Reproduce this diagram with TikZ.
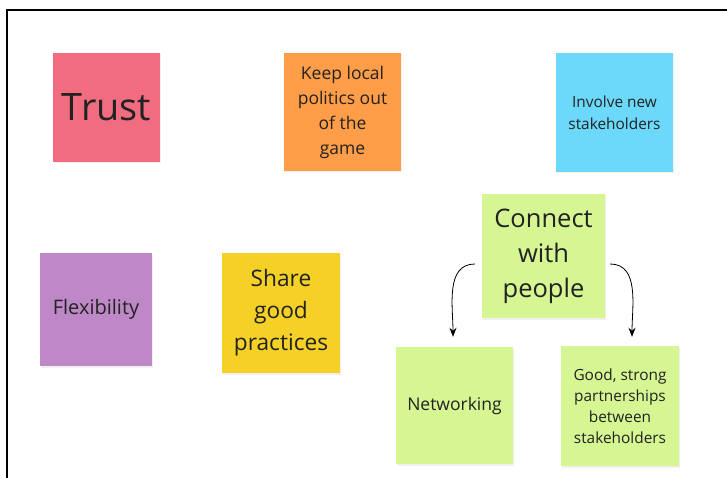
\documentclass[tikz,border=0pt]{standalone}
\usepackage{fontspec}
\setmainfont{Open Sans}
\usepackage{xcolor}
\usetikzlibrary{arrows.meta,shadows}

\definecolor{trustpink}{HTML}{F16C7F}
\definecolor{keeporange}{HTML}{FF9D48}
\definecolor{involveblue}{HTML}{6CD8FA}
\definecolor{flexpurple}{HTML}{BE88C7}
\definecolor{shareyellow}{HTML}{F5D128}
\definecolor{peoplegreen}{HTML}{D5F692}
\definecolor{inkgrey}{HTML}{222222}

\begin{document}
\begin{tikzpicture}[x=1pt,y=-1pt,
		note/.style={inner sep=0pt, align=center, text=inkgrey,
			drop shadow={shadow xshift=1pt, shadow yshift=-1.5pt, opacity=0.12}},
		link/.style={-{Stealth[length=9pt,width=7pt]}, line width=0.8pt}]
		\useasboundingbox (0,0) rectangle (727,478);
		\draw[line width=2.2pt] (7,478) -- (7,10) -- (727,10);
		% top row
		\node[note, fill=trustpink, minimum width=107pt, minimum height=109pt, font=\fontsize{37.8}{44}\selectfont] (trust) at (106.5,107.5) {Trust};
		\node[note, fill=keeporange, minimum width=117pt, minimum height=118pt, font=\fontsize{17.5}{25}\selectfont] (keep) at (342.5,112) {Keep local\\politics out\\of the\\game};
		\node[note, fill=involveblue, minimum width=117pt, minimum height=119pt, font=\fontsize{15.4}{22}\selectfont] (involve) at (614.5,112.5) {Involve new\\stakeholders};
		% middle row
		\node[note, fill=flexpurple, minimum width=112pt, minimum height=113pt, font=\fontsize{20}{24}\selectfont] (flex) at (96,309.5) {Flexibility};
		\node[note, fill=shareyellow, minimum width=118pt, minimum height=120pt, font=\fontsize{22.7}{32}\selectfont] (share) at (281,313) {Share\\good\\practices};
		\node[note, fill=peoplegreen, minimum width=123pt, minimum height=124pt, font=\fontsize{25.5}{35}\selectfont] (people) at (543.5,256) {Connect\\with\\people};
		% bottom row
		\node[note, fill=peoplegreen, minimum width=117pt, minimum height=117pt, font=\fontsize{17.5}{24}\selectfont] (network) at (454.5,405.5) {Networking};
		\node[note, fill=peoplegreen, minimum width=118pt, minimum height=120pt, font=\fontsize{15.4}{21}\selectfont] (partner) at (620,406) {Good, strong\\partnerships\\between\\stakeholders};
		\draw[link] ([shift={(-7,8)}]people.west) to[out=180,in=90] ([shift={(-1.5,-10)}]network.north);
		\draw[link] ([shift={(5,8)}]people.east) to[out=0,in=90] ([shift={(12,-9)}]partner.north);
	\end{tikzpicture}
\end{document}
